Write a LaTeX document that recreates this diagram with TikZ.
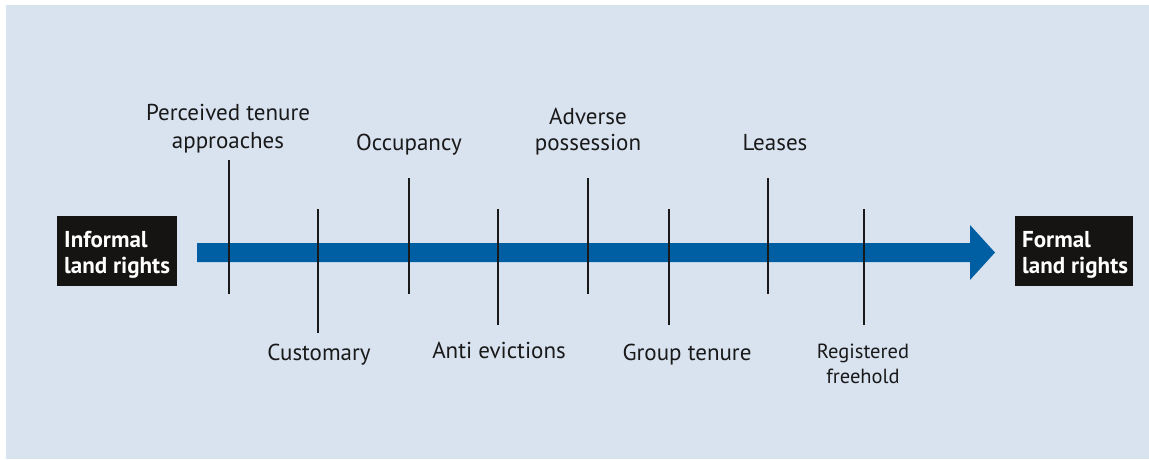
\documentclass[tikz,border=0pt]{standalone}
\usepackage{fontspec}
\setmainfont{PT Sans}
\definecolor{bg}{RGB}{217,227,240}
\definecolor{arrowblue}{RGB}{0,94,162}
\definecolor{boxblack}{RGB}{22,20,18}
\begin{document}
\begin{tikzpicture}[x=1pt,y=-1pt,
  lbl/.style={font=\fontsize{23}{27}\selectfont, text=black!90, align=center, inner sep=0pt},
  endbox/.style={fill=boxblack, minimum height=70pt, inner sep=0pt},
  boxtext/.style={text=white, font=\fontsize{23}{26}\selectfont\bfseries, align=left, inner sep=0pt},
  tick/.style={draw=black!90, line width=1.2pt}]
\useasboundingbox (0,0) rectangle (1149,459);
\fill[bg] (6,5) rectangle (1149,459);
% end boxes
\node[endbox, anchor=north west, minimum width=120pt] (inf) at (57,216) {};
\node[boxtext, anchor=base west] (inft) at (64,273) {Informal\\land rights};
\node[endbox, anchor=north west, minimum width=118pt] (frm) at (1015,216) {};
\node[boxtext, anchor=base west] (frmt) at (1022,273) {Formal\\land rights};
% arrow
\coordinate (a0) at (197,252.5);
\coordinate (a1) at (995,252.5);
\fill[arrowblue] (a0) ++(0,-9.5) -- (970,243) -- (970,225) -- (a1) -- (970,280) -- (970,262) -- ++(-773,0) -- cycle;
% ticks
\coordinate (t1a) at (229,160); \coordinate (t1b) at (229,294);
\coordinate (t2a) at (318,209); \coordinate (t2b) at (318,333);
\coordinate (t3a) at (409,178); \coordinate (t3b) at (409,294);
\coordinate (t4a) at (498,209); \coordinate (t4b) at (498,325);
\coordinate (t5a) at (588,178); \coordinate (t5b) at (588,294);
\coordinate (t6a) at (669,209); \coordinate (t6b) at (669,325);
\coordinate (t7a) at (768,178); \coordinate (t7b) at (768,294);
\coordinate (t8a) at (864,209); \coordinate (t8b) at (864,325);
\foreach \i in {1,...,8} \draw[tick] (t\i a) -- (t\i b);
% labels
\node[lbl, anchor=base, font=\fontsize{23}{28}\selectfont] (l1) at (228,148) {Perceived tenure\\approaches};
\node[lbl, anchor=base] (l3) at (409,150) {Occupancy};
\node[lbl, anchor=base, font=\fontsize{23}{26}\selectfont] (l5) at (588,150) {Adverse\\possession};
\node[lbl, anchor=base] (l7) at (775,150) {Leases};
\node[lbl, anchor=base] (l2) at (319,360) {Customary};
\node[lbl, anchor=base] (l4) at (499,358) {Anti evictions};
\node[lbl, anchor=base] (l6) at (687,360) {Group tenure};
\node[lbl, anchor=base, font=\fontsize{20.5}{25}\selectfont] (l8) at (863,383) {Registered\\freehold};
\end{tikzpicture}
\end{document}
